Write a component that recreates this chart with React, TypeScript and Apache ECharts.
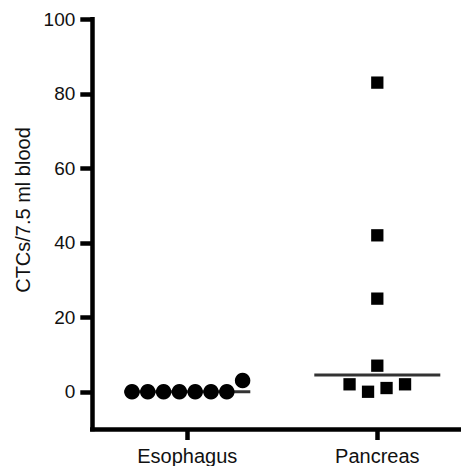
import React, { useEffect, useRef } from "react";
import * as echarts from "echarts";

const categories = ["Esophagus", "Pancreas"];
const esophagus = [0, 0, 0, 0, 0, 0, 0, 3];
const pancreas = [83, 42, 25, 7, 2, 0, 1, 2];
const yTicks = [0, 20, 40, 60, 80, 100];
const yTitle = "CTCs/7.5 ml blood";

const FONT = "'Liberation Sans', Arial, Helvetica, sans-serif";

function median(vals: number[]): number {
  const s = [...vals].sort((a, b) => a - b);
  const n = s.length;
  return n % 2 ? s[(n - 1) / 2] : (s[n / 2 - 1] + s[n / 2]) / 2;
}

// simple beeswarm: values close together share a row, spread horizontally in data order
function swarmSlots(vals: number[], threshold: number): number[] {
  const order = vals.map((v, i) => i).sort((a, b) => vals[a] - vals[b] || a - b);
  const slots = new Array(vals.length).fill(0);
  let cluster: number[] = [];
  const flush = () => {
    const c = [...cluster].sort((a, b) => a - b);
    c.forEach((idx, k) => (slots[idx] = k - (c.length - 1) / 2));
    cluster = [];
  };
  order.forEach((idx, j) => {
    if (j > 0 && vals[idx] - vals[order[j - 1]] >= threshold) flush();
    cluster.push(idx);
  });
  flush();
  return slots;
}

export default function App() {
  const ref = useRef<HTMLDivElement>(null);
  useEffect(() => {
    if (!ref.current) return;
    const chart = echarts.init(ref.current, null, { renderer: "svg" });
    const eSlots = swarmSlots(esophagus, 4);
    const pSlots = swarmSlots(pancreas, 4);
    const eSpacing = 15.8;
    const pSpacing = 18.5;
    chart.setOption({
      animation: false,
      backgroundColor: "#fff",
      grid: { left: 92.3, top: 19.3, right: -11.3, bottom: 37, outerBoundsMode: "none" },
      xAxis: {
        type: "category",
        data: categories,
        boundaryGap: true,
        axisLine: { show: true, onZero: false, lineStyle: { color: "#000", width: 4.5, cap: "square" } },
        axisTick: { show: true, alignWithLabel: true, length: 11, lineStyle: { color: "#000", width: 4.5 } },
        axisLabel: { color: "#111", fontSize: 20, fontFamily: FONT, margin: 17 },
        splitLine: { show: false },
      },
      yAxis: {
        type: "value",
        min: -10,
        max: 100,
        axisLine: { show: true, onZero: false, lineStyle: { color: "#000", width: 4.5, cap: "square" } },
        axisTick: { show: true, length: 12, customValues: yTicks, lineStyle: { color: "#000", width: 4.5 } },
        axisLabel: { color: "#111", fontSize: 19, fontFamily: FONT, margin: 17, customValues: yTicks },
        splitLine: { show: false },
      },
      graphic: [
        {
          type: "text",
          x: 23.3,
          y: 210,
          rotation: Math.PI / 2,
          style: {
            text: yTitle,
            fill: "#111",
            font: `20px ${FONT}`,
            align: "center",
            verticalAlign: "middle",
          },
        },
      ],
      series: [
        {
          type: "scatter",
          symbol: "rect",
          symbolSize: [126, 3],
          itemStyle: { color: "#000" },
          z: 1,
          data: [
            [categories[0], median(esophagus)],
            [categories[1], median(pancreas)],
          ],
        },
        {
          type: "scatter",
          symbol: "circle",
          symbolSize: 15.5,
          itemStyle: { color: "#000", opacity: 1 },
          z: 2,
          data: esophagus.map((v, i) => ({
            value: [categories[0], v],
            symbolOffset: [eSlots[i] * eSpacing, 0],
          })),
        },
        {
          type: "scatter",
          symbol: "rect",
          symbolSize: 12.3,
          itemStyle: { color: "#000", opacity: 1 },
          z: 2,
          data: pancreas.map((v, i) => ({
            value: [categories[1], v],
            symbolOffset: [pSlots[i] * pSpacing, 0],
          })),
        },
      ],
    });
    return () => chart.dispose();
  }, []);
  return (
    <div
      ref={ref}
      style={{ position: "fixed", left: 0, top: 0, width: 461, height: 466, background: "#fff" }}
    />
  );
}
